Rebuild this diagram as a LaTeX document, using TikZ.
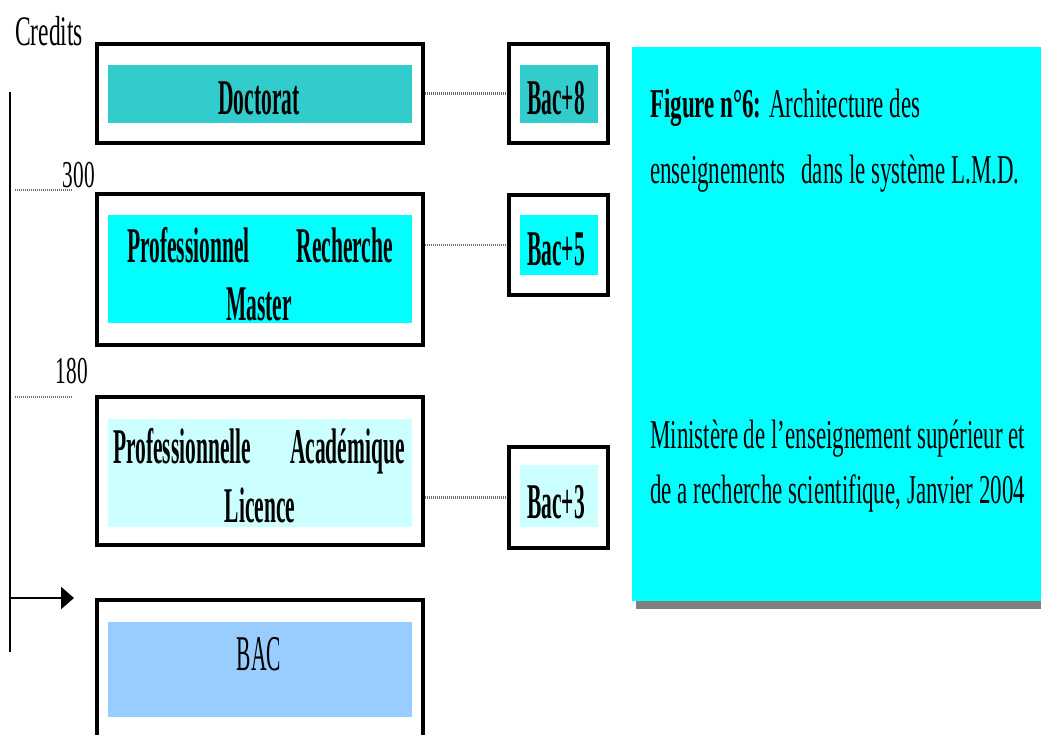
\documentclass[tikz,border=0pt]{standalone}
\usepackage{fontspec}
\setmainfont{Liberation Serif}
\newfontfamily\narrowfont[FakeStretch=0.43]{Liberation Serif}
\newfontfamily\capfont[FakeStretch=0.56]{Liberation Serif}
\usetikzlibrary{arrows.meta}

\definecolor{docteal}{RGB}{51,204,204}
\definecolor{mastcyan}{RGB}{0,255,255}
\definecolor{liccyan}{RGB}{204,255,255}
\definecolor{bacblue}{RGB}{153,204,255}
\definecolor{ombre}{RGB}{128,128,128}

\begin{document}
\begin{tikzpicture}[x=1pt, y=-1pt,
    cadre/.style={draw, line width=4pt, inner sep=0pt},
    fond/.style={inner sep=0pt, minimum width=304pt},
    petitfond/.style={inner sep=0pt, minimum width=78pt},
    etiquette/.style={font=\narrowfont\bfseries\fontsize{50}{50}\selectfont, inner sep=0pt, anchor=base},
    pointille/.style={line width=2.5pt, gray!85!black, dash pattern=on 1pt off 1pt},
    legende/.style={font=\capfont\fontsize{41}{41}\selectfont, inner sep=0pt, anchor=base west},
    graduation/.style={font=\capfont\fontsize{38}{38}\selectfont, inner sep=0pt, anchor=base east}]

            \clip (0,0) rectangle (1041,735);
            \fill[white] (0,0) rectangle (1041,735);

            % ==========================================
            % 1. Axe des credits
            % ==========================================
            \coordinate (axehaut) at (10,92);
            \coordinate (axebas) at (10,652);
            \draw[line width=2.2pt] (axehaut) -- (axebas);
            \node[font=\capfont\fontsize{42}{42}\selectfont, inner sep=0pt, anchor=base west] (credits) at (15,46) {Credits};

            \node[graduation] (g300) at (95,188) {300};
            \coordinate (t300) at (72,190);
            \draw[pointille] ([xshift=5pt]axehaut |- t300) -- (t300);

            \node[graduation] (g180) at (88,383) {180};
            \coordinate (t180) at (72,397);
            \draw[pointille] ([xshift=5pt]axehaut |- t180) -- (t180);

            \coordinate (fleche) at (74,598);
            \draw[line width=2.5pt, -{Triangle[length=13pt, width=22pt]}] (axehaut |- fleche) -- (fleche);

            % ==========================================
            % 2. Niveaux (Doctorat, Master, Licence, BAC)
            % ==========================================
            \node[cadre, minimum width=326pt, minimum height=99pt] (doct) at (260,93.5) {};
            \node[fond, fill=docteal, minimum height=58pt] (doctfond) at (260,94) {};
            \node[etiquette] (doctlab) at (259,115) {Doctorat};

            \node[cadre, minimum width=326pt, minimum height=151pt] (mast) at (260,269.5) {};
            \node[fond, fill=mastcyan, minimum height=108pt] (mastfond) at (260,269) {};
            \node[etiquette, anchor=base west] (mastpro) at (127,263) {Professionnel};
            \node[etiquette, anchor=base east] (mastrech) at (393,263) {Recherche};
            \node[etiquette] (mastlab) at (259,320) {Master};

            \node[cadre, minimum width=326pt, minimum height=148pt] (lic) at (260,471) {};
            \node[fond, fill=liccyan, minimum height=108pt] (licfond) at (260,473) {};
            \node[etiquette, anchor=base west] (licpro) at (113,463) {Professionnelle};
            \node[etiquette, anchor=base east] (licacad) at (405,463) {Académique};
            \node[etiquette] (liclab) at (260,522) {Licence};

            \node[cadre, minimum width=326pt, minimum height=148pt] (bac) at (260,674) {};
            \node[fond, fill=bacblue, minimum height=95pt] (bacfond) at (260,669.5) {};
            \node[etiquette, font=\narrowfont\fontsize{50}{50}\selectfont] (baclab) at (259,670) {BAC};

            % ==========================================
            % 3. Equivalences (Bac+8, Bac+5, Bac+3)
            % ==========================================
            \node[cadre, minimum width=99pt, minimum height=99pt] (b8) at (558.5,93.5) {};
            \node[petitfond, fill=docteal, minimum height=58pt] (b8fond) at (559,94) {};
            \node[etiquette] (b8lab) at (556,115) {Bac+8};

            \node[cadre, minimum width=99pt, minimum height=100pt] (b5) at (558.5,245) {};
            \node[petitfond, fill=mastcyan, minimum height=60pt] (b5fond) at (559,245) {};
            \node[etiquette] (b5lab) at (556,266) {Bac+5};

            \node[cadre, minimum width=99pt, minimum height=101pt] (b3) at (558.5,497.5) {};
            \node[petitfond, fill=liccyan, minimum height=62pt] (b3fond) at (559,496) {};
            \node[etiquette] (b3lab) at (556,518) {Bac+3};

            \draw[pointille] (doct.east |- b8.west) -- (b8.west);
            \draw[pointille] (mast.east |- b5.west) -- (b5.west);
            \draw[pointille] (lic.east |- b3.west) -- (b3.west);

            % ==========================================
            % 4. Legende
            % ==========================================
            \node[fill=mastcyan, inner sep=0pt, minimum width=409pt, minimum height=554pt] (encadre) at (836.5,324) {};
            \fill[ombre] ([xshift=4pt]encadre.south west) rectangle ([yshift=-8pt]encadre.south east);

            \node[legende] (leg1) at (650,118) {\textbf{Figure n°6:} Architecture des};
            \node[legende] (leg2) at (650,184) {enseignements\hspace{16pt}dans le système L.M.D.};
            \node[legende] (leg3) at (650,448) {Ministère de l’enseignement supérieur et};
            \node[legende] (leg4) at (650,503) {de a recherche scientifique, Janvier 2004};

\end{tikzpicture}
\end{document}
